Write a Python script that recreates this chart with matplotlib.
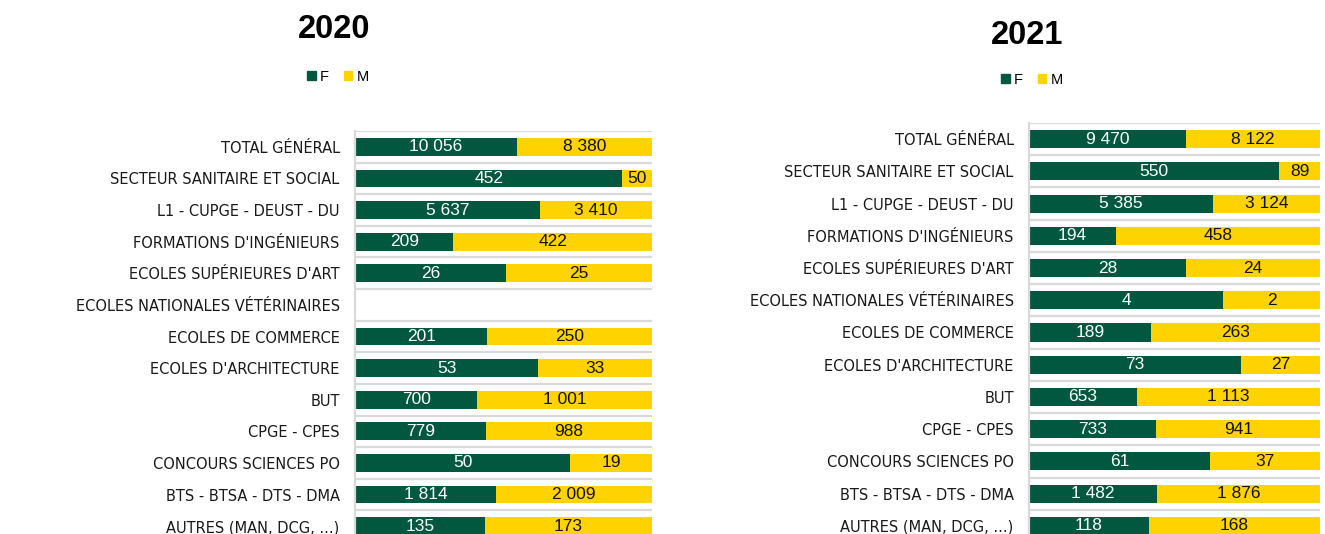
import numpy as np
import matplotlib
matplotlib.use("Agg")
import matplotlib.pyplot as plt
from matplotlib.patches import Patch

categories = ["TOTAL GÉNÉRAL", "SECTEUR SANITAIRE ET SOCIAL", "L1 - CUPGE - DEUST - DU",
              "FORMATIONS D'INGÉNIEURS", "ECOLES SUPÉRIEURES D'ART",
              "ECOLES NATIONALES VÉTÉRINAIRES", "ECOLES DE COMMERCE",
              "ECOLES D'ARCHITECTURE", "BUT", "CPGE - CPES", "CONCOURS SCIENCES PO",
              "BTS - BTSA - DTS - DMA", "AUTRES (MAN, DCG, ...)"]

f_2020 = [10056, 452, 5637, 209, 26, 0, 201, 53, 700, 779, 50, 1814, 135]
m_2020 = [8380, 50, 3410, 422, 25, 0, 250, 33, 1001, 988, 19, 2009, 173]
f_2021 = [9470, 550, 5385, 194, 28, 4, 189, 73, 653, 733, 61, 1482, 118]
m_2021 = [8122, 89, 3124, 458, 24, 2, 263, 27, 1113, 941, 37, 1876, 168]

GREEN = "#01583E"
YELLOW = "#FFD300"
GRID = "#D9D9D9"


def fmt(v):
    return f"{v:,}".replace(",", " ")


def draw(ax, f, m):
    f = np.array(f, dtype=float)
    m = np.array(m, dtype=float)
    tot = f + m
    with np.errstate(invalid="ignore", divide="ignore"):
        fp = np.where(tot > 0, f / tot, np.nan)
        mp = np.where(tot > 0, m / tot, np.nan)
    y = np.arange(len(categories))
    bf = ax.barh(y, fp, height=0.56, color=GREEN)
    bm = ax.barh(y, mp, left=fp, height=0.56, color=YELLOW)
    ax.bar_label(bf, labels=[fmt(int(v)) if t > 0 else "" for v, t in zip(f, tot)],
                 label_type="center", color="white", fontsize=12.5,
                 family="Liberation Sans")
    ax.bar_label(bm, labels=[fmt(int(v)) if t > 0 else "" for v, t in zip(m, tot)],
                 label_type="center", color="#111111", fontsize=12.5,
                 family="Liberation Sans")
    ax.set_xlim(0, 1)
    ax.set_ylim(len(categories) - 0.5, -0.5)
    ax.set_yticks(y)
    ax.set_yticklabels(categories, fontsize=10.5, color="#1a1a1a", family="DejaVu Sans")
    ax.tick_params(axis="y", length=0, pad=11)
    ax.set_xticks([])
    ax.set_yticks(np.arange(-0.5, len(categories), 1), minor=True)
    ax.tick_params(axis="y", which="minor", length=0)
    ax.grid(True, axis="y", which="minor", color=GRID, lw=1.6)
    ax.set_axisbelow(True)
    for s in ["top", "right", "bottom"]:
        ax.spines[s].set_visible(False)
    ax.spines["left"].set_color(GRID)
    ax.spines["left"].set_linewidth(1.6)


fig = plt.figure(figsize=(13.25, 5.34), dpi=100)
ax1 = fig.add_axes([355 / 1325, -0.015, 297 / 1325, 0.7697])
ax2 = fig.add_axes([1029 / 1325, -0.015, 291 / 1325, 0.7847])
draw(ax1, f_2020, m_2020)
draw(ax2, f_2021, m_2021)

title_font = dict(family="Liberation Sans", fontweight="bold", fontsize=23.5,
                  ha="center", va="center")
fig.text(334 / 1325, 1 - 30 / 534, "2020", **title_font)
fig.text(1027 / 1325, 1 - 35 / 534, "2021", **title_font)

handles = [Patch(color=GREEN, label="F"), Patch(color=YELLOW, label="M")]
for cx, cy in [(338, 77), (1032, 80)]:
    fig.legend(handles=handles, loc="center", bbox_to_anchor=(cx / 1325, 1 - cy / 534),
               ncol=2, frameon=False, handlelength=0.6, handleheight=0.6,
               handletextpad=0.3, columnspacing=1.0,
               prop={"family": "Liberation Sans", "size": 10.5})

fig.savefig("out.png", dpi=100)
